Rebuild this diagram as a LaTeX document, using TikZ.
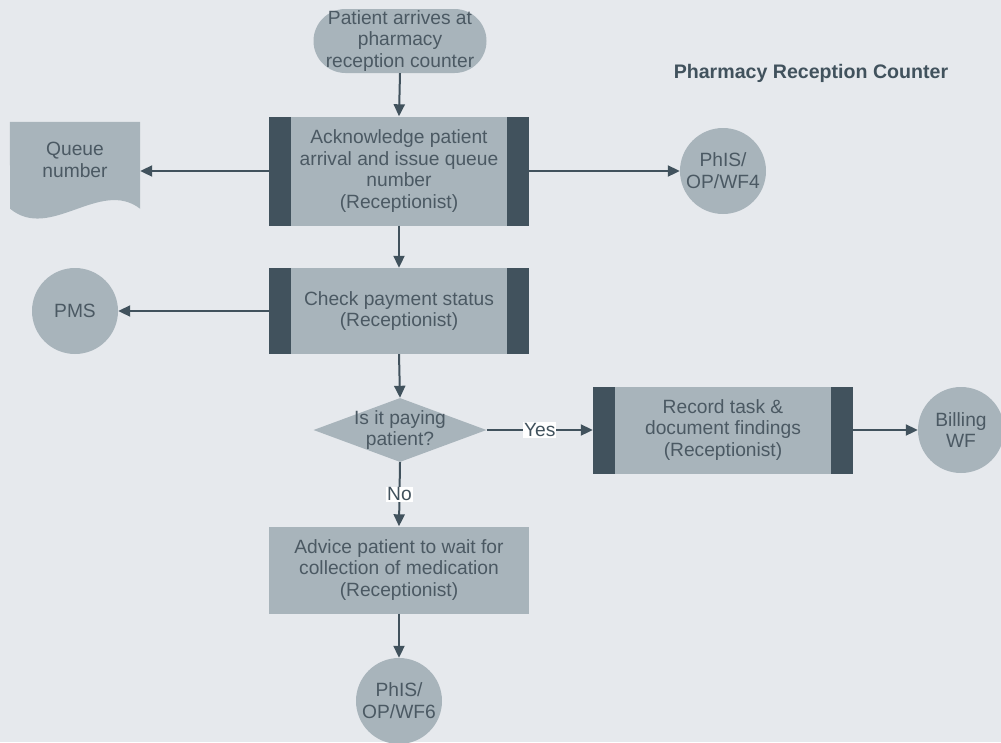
\documentclass[tikz,border=0pt]{standalone}
\usepackage{fontspec}
\setmainfont{Liberation Sans}
\usetikzlibrary{shapes.geometric,arrows.meta,backgrounds}
\definecolor{bgcol}{HTML}{E6E9ED}
\definecolor{shapecol}{HTML}{A8B4BB}
\definecolor{barcol}{HTML}{41525D}
\definecolor{textcol}{HTML}{4B5963}
\tikzset{
  txt/.style={text=textcol,align=center,inner sep=0pt,font=\fontsize{19.2pt}{21.8pt}\selectfont},
  terminal/.style={txt,fill=shapecol,rounded corners=32pt,minimum width=173pt,minimum height=64pt},
  process/.style={txt,fill=shapecol,minimum width=260pt},
  procbars/.style={process,path picture={
      \fill[barcol] (path picture bounding box.south west) rectangle ([xshift=22pt]path picture bounding box.north west);
      \fill[barcol] (path picture bounding box.south east) rectangle ([xshift=-22pt]path picture bounding box.north east);}},
  decision/.style={diamond,fill=shapecol,minimum width=173pt,minimum height=64pt,inner sep=0pt},
  connector/.style={txt,circle,fill=shapecol,minimum size=86pt},
  flowedge/.style={draw=barcol,line width=2pt,-{Triangle[length=12pt,width=11pt]}},
  edgelabel/.style={txt,text=barcol,fill=white,inner sep=1pt}
}
\begin{document}
\begin{tikzpicture}[x=1pt,y=-1pt]
    % page and background
    \begin{scope}[on background layer]
    \fill[bgcol] (0,0) rectangle (1001,742);
    \end{scope}
    \useasboundingbox (0,0) rectangle (1001,742);

    % the steps
    \node[terminal] (start) at (400,41) {Patient arrives at\\pharmacy\\reception counter};
    \node[procbars,minimum height=109pt] (ack) at (399,171) {Acknowledge patient\\arrival and issue queue\\number\\(Receptionist)};
    \node[procbars,minimum height=86pt] (check) at (399,311) {Check payment status\\(Receptionist)};
    \node[decision] (decide) at (400,430) {};
    \node[txt] (decidetext) at (decide) {Is it paying\\patient?};
    \node[procbars,minimum height=87pt] (record) at (723,430) {Record task \&\\document findings\\(Receptionist)};
    \node[process,minimum height=87pt] (advice) at (399,570) {Advice patient to wait for\\collection of medication\\(Receptionist)};

    % document and connectors
    \node[txt,minimum width=130pt,minimum height=76pt] (qnum) at (75,160) {Queue\\number};
    \begin{scope}[on background layer]
    \fill[shapecol] (qnum.north west) -- (qnum.north east) -- ++(0,87) .. controls +(-40,-31) and +(40,33) .. ++(-130,0) -- cycle;
    \end{scope}
    \node[connector] (phis4) at (723,171) {PhIS/\\OP/WF4};
    \node[connector] (pms) at (75,311) {PMS};
    \node[connector] (billing) at (961,430) {Billing\\WF};
    \node[connector] (phis6) at (399,701) {PhIS/\\OP/WF6};

    \node[txt,text=barcol,font=\bfseries\fontsize{19.6pt}{22pt}\selectfont] (title) at (811,73) {Pharmacy Reception Counter};

    % Connect steps with arrows
    \foreach \source/\dest in {start.south/ack.north, ack.east/phis4.west, ack.south/check.north,
        check.west/pms.east, check.south/decide.north, record.east/billing.west, advice.south/phis6.north}
        \path[flowedge] (\source) -- (\dest);
    \path[flowedge] (ack.west) -- (ack.west -| qnum.east);
    \path[flowedge] (decide.east) -- node[edgelabel] {Yes} (record.west);
    \path[flowedge] (decide.south) -- node[edgelabel] {No} (advice.north);
\end{tikzpicture}
\end{document}
